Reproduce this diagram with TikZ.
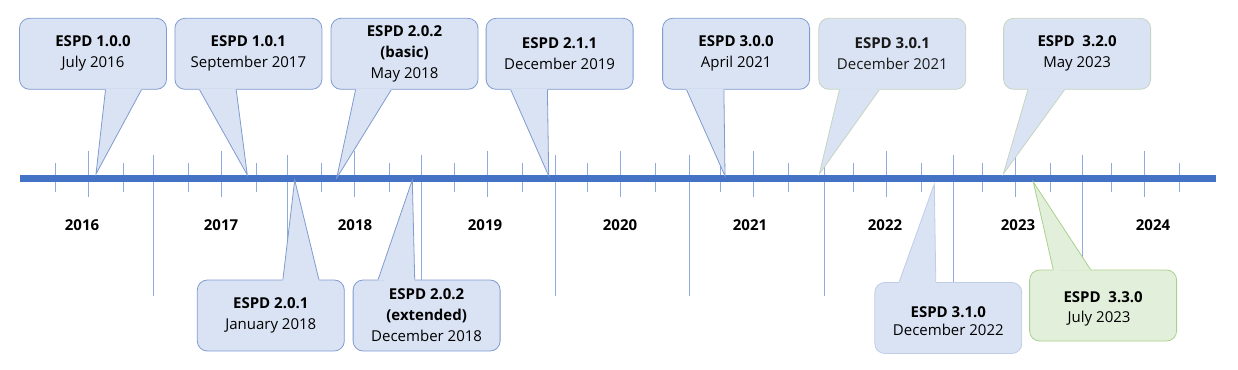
\documentclass[tikz,border=0pt]{standalone}
\usepackage{fontspec}
\setmainfont{Open Sans}
\usepackage{tikz}
\usetikzlibrary{positioning,calc}

\definecolor{axisblue}{HTML}{4472C4}
\definecolor{tickblue}{HTML}{8FAADC}
\definecolor{callfill}{HTML}{DAE3F3}
\definecolor{callline}{HTML}{7F9BCF}
\definecolor{paleline}{HTML}{C6D4C2}
\definecolor{lightline}{HTML}{BFCDE6}
\definecolor{greenfill}{HTML}{E2EFDA}
\definecolor{greenline}{HTML}{A9D18E}

% pointer of a callout: style, base point 1, base point 2, tip
\newcommand{\callpoint}[4]{%
  \fill[#1, draw=none] ($#2!-1.2pt!#4$) -- #4 -- ($#3!-1.2pt!#4$) -- cycle;
  \draw[#1, fill=none] #2 -- #4 -- #3;
}

\begin{document}
\begin{tikzpicture}[x=1pt, y=-1pt,
    espd box/.style={rectangle, draw=callline, fill=callfill, rounded corners=10,
      minimum width=147, minimum height=71, inner sep=0, align=center,
      line width=0.8, font=\fontsize{15}{21}\selectfont},
    pale box/.style={espd box, draw=paleline},
    light box/.style={espd box, draw=lightline},
    green box/.style={espd box, draw=greenline, fill=greenfill},
    espd point/.style={fill=callfill, draw=callline, line width=0.8},
    pale point/.style={fill=callfill, draw=paleline, line width=0.8},
    light point/.style={fill=callfill, draw=lightline, line width=0.8},
    green point/.style={fill=greenfill, draw=greenline, line width=0.8},
    minor tick/.style={draw=tickblue, line width=0.9},
    year label/.style={font=\bfseries\fontsize{15}{18}\selectfont}]

    \useasboundingbox (0,0) rectangle (1238,369);

    % quarter, year and half-year marks
    \foreach \x in {55.3,123.3,188.3,256.3,321.7,389.3,454.3,522.3,587.3,655.3,
                    720.3,788.3,853.3,921.3,982.3,1050.3,1111.3,1179.3}
      \draw[minor tick] (\x,163) -- (\x,192);
    \foreach \x in {88.3,221.3,354.3,487.3,620.3,753.3,886.3,1015.3,1144.3}
      \draw[minor tick] (\x,151) -- (\x,197);
    \foreach \x in {153.3,287.3,421.7,555.3,689.3,824.3,953.3,1082.3}
      \draw[minor tick] (\x,155) -- (\x,296);

    % time axis
    \coordinate (axL) at (20,178.3);
    \coordinate (axR) at (1216,178.3);
    \draw[axisblue, line width=6.5] (axL) -- (axR);

    \foreach \x/\yr in {82/2016,221/2017,355/2018,485/2019,620/2020,
                        750/2021,885/2022,1018/2023,1153/2024}
      \node[year label] (y\yr) at (\x,225) {\yr};

    % releases above the axis
    \node[espd box] (v100) at (93,53.8) {\textbf{ESPD 1.0.0}\\July 2016};
    \node[espd box, right=7.6 of v100] (v101) {\textbf{ESPD 1.0.1}\\September 2017};
    \node[espd box, right=8.3 of v101] (v202b) {\textbf{ESPD 2.0.2}\\\textbf{(basic)}\\May 2018};
    \node[espd box, right=7.3 of v202b] (v211) {\textbf{ESPD 2.1.1}\\December 2019};
    \node[espd box, right=28.7 of v211] (v300) {\textbf{ESPD 3.0.0}\\April 2021};
    \node[pale box, right=8.4 of v300, text=black!90] (v301) {\textbf{ESPD 3.0.1}\\December 2021};
    \node[pale box, right=37 of v301] (v320) {\textbf{ESPD\ \ 3.2.0}\\May 2023};

    % releases below the axis
    \node[espd box] (v201) at (270.8,315.5) {\textbf{ESPD 2.0.1}\\January 2018};
    \node[espd box, right=8 of v201] (v202e) {\textbf{ESPD 2.0.2}\\\textbf{(extended)}\\December 2018};
    \node[light box] (v310) at (948.3,318) {\\[-4pt]\textbf{ESPD 3.1.0}\\[-3pt]December 2022};
    \node[green box, right=7 of v310, yshift=12.5] (v330) {\\[-4pt]\textbf{ESPD\ \ 3.3.0}\\[-1pt]July 2023\hspace*{8pt}};

    % where each pointer meets the axis
    \coordinate (t100) at (96,174);
    \coordinate (t101) at (247.3,175);
    \coordinate (t202b) at (336.7,178);
    \coordinate (t211) at (548.7,176);
    \coordinate (t300) at (725,176);
    \coordinate (t301) at (819.3,174);
    \coordinate (t320) at (1003.3,174);
    \coordinate (t201) at (294.7,180);
    \coordinate (t202e) at (412.3,180);
    \coordinate (t310) at (934.3,184);
    \coordinate (t330) at (1033.3,182);

    \callpoint{espd point}{([xshift=86.4]v100.south west)}{([xshift=122.4]v100.south west)}{(t100)}
    \callpoint{espd point}{([xshift=25]v101.south west)}{([xshift=61.7]v101.south west)}{(t101)}
    \callpoint{espd point}{([xshift=25]v202b.south west)}{([xshift=60.7]v202b.south west)}{(t202b)}
    \callpoint{espd point}{([xshift=25]v211.south west)}{([xshift=61.7]v211.south west)}{(t211)}
    \callpoint{espd point}{([xshift=24.3]v300.south west)}{([xshift=61.7]v300.south west)}{(t300)}
    \callpoint{pale point}{([xshift=21]v301.south west)}{([xshift=61]v301.south west)}{(t301)}
    \callpoint{pale point}{([xshift=24.7]v320.south west)}{([xshift=61.4]v320.south west)}{(t320)}
    \callpoint{espd point}{([xshift=86]v201.north west)}{([xshift=122]v201.north west)}{(t201)}
    \callpoint{espd point}{([xshift=25.4]v202e.north west)}{([xshift=62]v202e.north west)}{(t202e)}
    \callpoint{light point}{([xshift=24.7]v310.north west)}{([xshift=61.4]v310.north west)}{(t310)}
    \callpoint{green point}{([xshift=24]v330.north west)}{([xshift=61.4]v330.north west)}{(t330)}

\end{tikzpicture}
\end{document}
